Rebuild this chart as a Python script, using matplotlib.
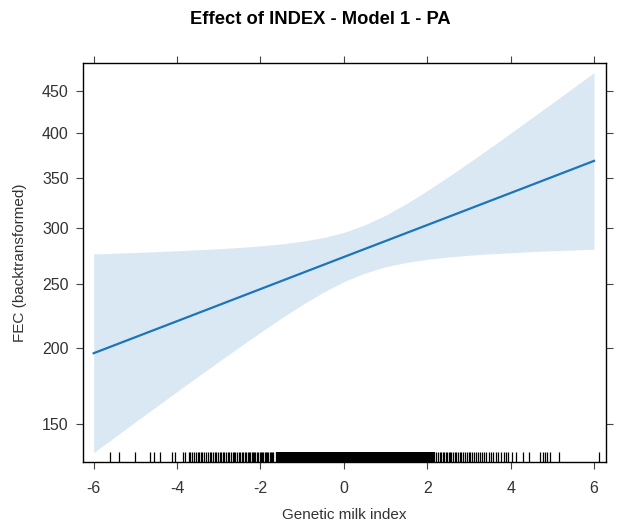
import numpy as np
import matplotlib
matplotlib.use("Agg")
import matplotlib.pyplot as plt

plt.rcParams['font.family'] = ['Liberation Sans', 'DejaVu Sans']

# ---- data ----
title = "Effect of INDEX - Model 1 - PA"
x_label = "Genetic milk index"
y_label = "FEC (backtransformed)"

x_ticks = [-6, -4, -2, 0, 2, 4, 6]
y_ticks = [150, 200, 250, 300, 350, 400, 450]

line_x = [-6, -4, -2, 0, 2, 4, 6]
line_fit = [196.3, 220.1, 245.8, 273.4, 302.9, 334.5, 368.3]

band_x = [-6, -5, -4, -3, -2.5, -2, -1.5, -1, -0.5, 0, 0.5, 1, 1.5, 2,
          2.5, 3, 3.5, 4, 4.5, 5, 5.5, 6]
band_upper = [276.1, 277.4, 279.0, 280.8, 282.0, 283.4, 285.2, 287.6, 291.0, 295.9, 303.0,
              312.3, 323.8, 336.9, 351.2, 366.4, 382.5, 399.3, 416.8, 434.9, 453.6, 472.9]
band_lower = [133.5, 151.2, 170.2, 190.4, 200.9, 211.6, 222.4, 233.0, 243.0, 252.0, 259.3,
              264.8, 268.6, 271.3, 273.4, 274.9, 276.2, 277.2, 278.2, 279.0, 279.7, 280.4]

rug_left = [-5.60, -5.39, -5.00, -4.65, -4.56, -4.42, -4.11, -4.05, -3.85, -3.81,
            -3.72, -3.68, -3.64, -3.60, -3.55, -3.51, -3.47, -3.43, -3.40, -3.36,
            -3.31, -3.27, -3.22, -3.18, -3.14, -3.10, -3.06, -3.02, -2.98, -2.95,
            -2.91, -2.87, -2.83, -2.79, -2.75, -2.71, -2.67, -2.63, -2.60, -2.56,
            -2.52, -2.49, -2.45, -2.42, -2.38, -2.35, -2.31, -2.28, -2.25, -2.21,
            -2.18, -2.15, -2.12, -2.08, -2.05, -2.02, -1.99, -1.96, -1.93, -1.90,
            -1.87, -1.84, -1.81, -1.78, -1.75, -1.72, -1.69]
rug_mid = [-1.60, -1.58, -1.55, -1.53, -1.50, -1.48, -1.45, -1.43, -1.40, -1.38,
           -1.35, -1.33, -1.30, -1.28, -1.25, -1.23, -1.20, -1.18, -1.15, -1.13,
           -1.10, -1.08, -1.05, -1.03, -1.00, -0.98, -0.95, -0.93, -0.90, -0.88,
           -0.85, -0.83, -0.80, -0.78, -0.75, -0.73, -0.70, -0.68, -0.65, -0.63,
           -0.60, -0.58, -0.55, -0.53, -0.50, -0.48, -0.45, -0.43, -0.40, -0.38,
           -0.35, -0.33, -0.30, -0.28, -0.25, -0.23, -0.20, -0.18, -0.15, -0.13,
           -0.10, -0.08, -0.05, -0.03, 0.00, 0.02, 0.05, 0.07, 0.10, 0.12,
           0.15, 0.17, 0.20, 0.22, 0.25, 0.27, 0.30, 0.32, 0.35, 0.37,
           0.40, 0.42, 0.45, 0.47, 0.50, 0.52, 0.55, 0.57, 0.60, 0.62,
           0.65, 0.67, 0.69, 0.75, 0.77, 0.80, 0.82, 0.85, 0.87, 0.90,
           0.92, 0.95, 0.97, 1.00, 1.02, 1.05, 1.07, 1.10, 1.12, 1.15,
           1.17, 1.20, 1.22, 1.25, 1.27, 1.30, 1.32, 1.35, 1.37, 1.40,
           1.42, 1.45, 1.47, 1.50, 1.52, 1.55, 1.57, 1.60, 1.62, 1.65,
           1.67, 1.70, 1.72, 1.75, 1.77, 1.80, 1.82, 1.85, 1.87, 1.90,
           1.92, 1.95, 1.97, 2.00, 2.02, 2.05, 2.07, 2.10, 2.12, 2.15]
rug_right = [2.22, 2.26, 2.30, 2.33, 2.37, 2.40, 2.44, 2.48, 2.51, 2.55,
             2.58, 2.62, 2.66, 2.70, 2.74, 2.78, 2.82, 2.86, 2.90, 2.95,
             2.99, 3.03, 3.08, 3.12, 3.17, 3.21, 3.26, 3.31, 3.36, 3.42,
             3.47, 3.53, 3.58, 3.64, 3.70, 3.76, 3.83, 3.90, 3.94,
             4.03, 4.12, 4.30, 4.45, 4.71, 4.78, 4.83, 4.88, 4.95, 5.15, 6.13]

# ---- styling ----
band_color = '#dae8f4'
line_color = '#1a76b8'
label_color = '#333333'

fig = plt.figure(figsize=(6.17, 5.22), dpi=100)
ax = fig.add_axes([0.134, 0.114, 0.8477, 0.7659])

ax.set_yscale('function', functions=(np.cbrt, lambda v: np.power(v, 3)))

ax.fill_between(band_x, band_lower, band_upper, color=band_color, linewidth=0)
ax.plot(line_x, line_fit, color=line_color, linewidth=1.6)

xt = ax.get_xaxis_transform()
ax.vlines(rug_left + rug_right, 0, 0.025, transform=xt, color='black', linewidth=0.9)
ax.vlines(rug_mid, 0, 0.025, transform=xt, color='black', linewidth=1.6)

ax.set_xlim(-6.264, 6.28)
ax.set_ylim(128.1, 485.7)

ax.set_xticks(x_ticks)
ax.set_xticklabels([str(v) for v in x_ticks])
ax.set_yticks(y_ticks)
ax.set_yticklabels([str(v) for v in y_ticks])
ax.minorticks_off()

ax.tick_params(axis='both', which='major', direction='out', length=5, width=0.8,
               color='#444444', labelcolor=label_color, labelsize=11.5,
               top=True, right=True, labeltop=False, labelright=False)
ax.tick_params(axis='x', pad=8)
ax.tick_params(axis='y', pad=5)

for s in ax.spines.values():
    s.set_color('black')
    s.set_linewidth(1.0)

ax.set_xlabel(x_label, fontsize=11, color=label_color, labelpad=9)
ax.set_ylabel(y_label, fontsize=11, color=label_color, labelpad=11)

fig.text(320.5 / 617, 1 - 19 / 522, title, ha='center', va='center',
         fontsize=13.2, fontweight='bold', color='black')

fig.savefig('out.png', dpi=100)
